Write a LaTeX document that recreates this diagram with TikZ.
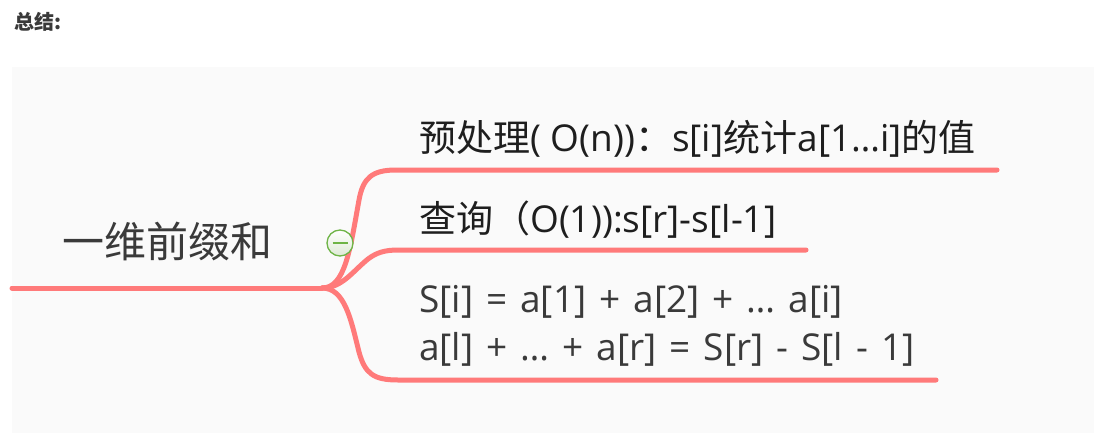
\documentclass[tikz,border=0pt]{standalone}
\usepackage{fontspec}
\setmainfont{Open Sans}
\newfontfamily\cjk{Noto Sans CJK SC}
\newfontfamily\widesans[WordSpace=1.35]{Open Sans}
\definecolor{panel}{RGB}{250,250,250}
\definecolor{branch}{RGB}{255,122,122}
\definecolor{txt}{RGB}{30,30,30}
\definecolor{roottxt}{RGB}{58,58,58}
\definecolor{btngreen}{RGB}{110,180,70}
\definecolor{btnfill}{RGB}{222,234,214}
\tikzset{
  branchline/.style={draw=branch, line width=5pt, line cap=round, line join=round},
  leaf/.style={anchor=base west, inner sep=0pt, text=txt, font=\fontsize{37}{42}\selectfont},
}
\begin{document}
\begin{tikzpicture}[x=1pt,y=-1pt]
\useasboundingbox (0,0) rectangle (1094,444);
\fill[white] (0,0) rectangle (1094,444);
\fill[panel] (12,67) rectangle (1094,433);
\node[anchor=base west, inner sep=0pt, text=roottxt, font=\fontsize{20}{22}\selectfont\cjk\bfseries] (title) at (14,30) {总结:};
% root
\node[anchor=base west, inner sep=0pt, text=roottxt, font=\fontsize{42}{48}\selectfont\cjk] (root) at (62,257) {一维前缀和};
\coordinate (start) at (12,288);
\coordinate (j) at (322,288);
\coordinate (e1) at (997,170);
\coordinate (e2) at (806,250);
\coordinate (e3) at (936,380);
% leaves
\node[leaf] (t1) at (419,151) {{\cjk 预处理}( O(n)){\cjk ：}s[i]{\cjk 统计}a[1…i]{\cjk 的值}};
\node[leaf] (t2) at (419,232) {{\cjk 查询（}O(1)):s[r]-s[l-1]};
\node[leaf, text=roottxt, font=\fontsize{37}{42}\selectfont\widesans] (t3a) at (419,312) {S[i] = a[1] + a[2] + … a[i]};
\node[leaf, text=roottxt, font=\fontsize{37}{42}\selectfont\widesans] (t3b) at (419,360) {a[l] + … + a[r] = S[r] - S[l - 1]};
% connectors
\draw[branchline] (start) -- (j);
\draw[branchline] (j) .. controls (345,288) and (350,250) .. (359,200) .. controls (363,178) and (372,170) .. (396,170) -- (e1);
\draw[branchline] (j) .. controls (342,288) and (352,272) .. (368,259) .. controls (376,253) and (384,250) .. (398,250) -- (e2);
\draw[branchline] (j) .. controls (345,288) and (351,320) .. (359,352) .. controls (365,374) and (374,380) .. (398,380) -- (e3);
% collapse button
\node[circle, minimum size=26pt, inner sep=0pt, draw=btngreen, line width=1.3pt, top color=white, bottom color=btnfill] (btn) at (340,243) {};
\draw[btngreen, line width=1.5pt] ([xshift=-7.5pt]btn.center) -- ([xshift=7.5pt]btn.center);
\end{tikzpicture}
\end{document}
